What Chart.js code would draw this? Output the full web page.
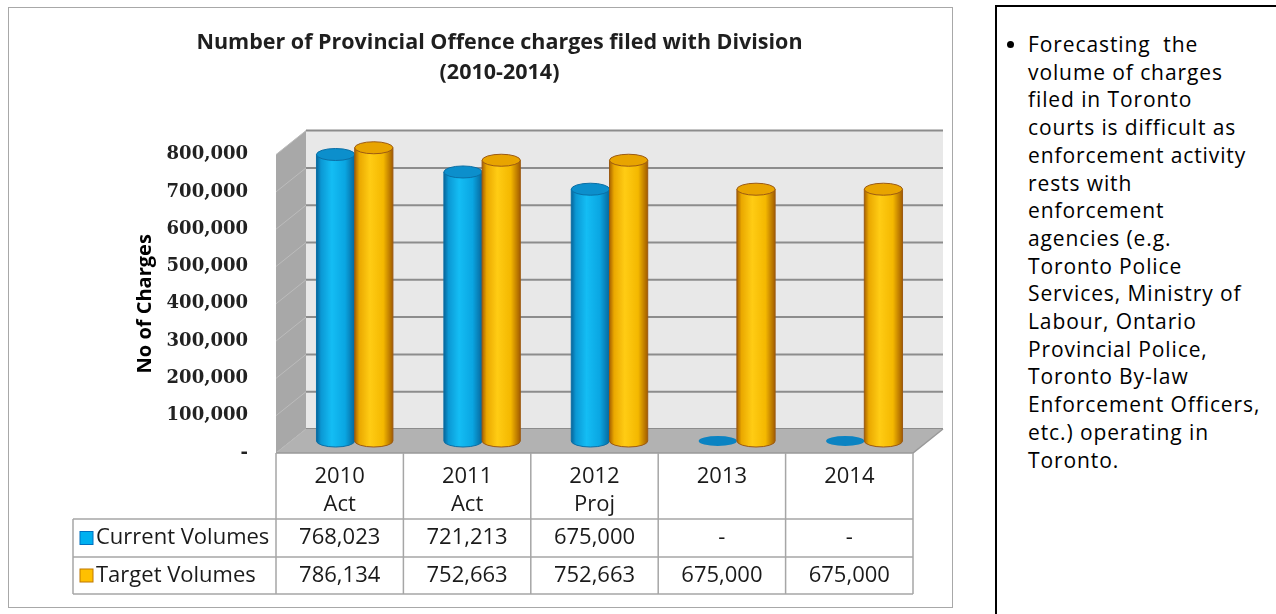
<!DOCTYPE html>
<html>
<head>
<meta charset="utf-8">
<script src="https://cdn.jsdelivr.net/npm/chart.js"></script>
<style>
  body { margin:0; background:#fff; width:1276px; height:614px; overflow:hidden; position:relative; font-family:'Open Sans', sans-serif; }
  #panel { position:absolute; left:8px; top:7px; width:945px; height:601px; border:1px solid #a8a8a8; box-sizing:border-box; }
  #chart { position:absolute; left:0; top:0; }
  #note { position:absolute; left:995px; top:5px; width:300px; height:640px; border:2px solid #000; box-sizing:border-box; }
  #note .dot { position:absolute; left:10px; top:34px; width:7px; height:7px; border-radius:50%; background:#000; }
  #note p { position:absolute; left:31px; top:24px; margin:0; font-size:21px; letter-spacing:0.9px; line-height:27.7px; white-space:pre; color:#000; }
</style>
</head>
<body>
<div id="panel"><canvas id="chart" width="943" height="599"></canvas></div>
<div id="note">
  <div class="dot"></div>
  <p>Forecasting  the
volume of charges
filed in Toronto
courts is difficult as
enforcement activity
rests with
enforcement
agencies (e.g.
Toronto Police
Services, Ministry of
Labour, Ontario
Provincial Police,
Toronto By-law
Enforcement Officers,
etc.) operating in
Toronto.</p>
</div>
<script>
// chart data
const years = ['2010', '2011', '2012', '2013', '2014'];
const yearNotes = ['Act', 'Act', 'Proj', '', ''];
const seriesNames = ['Current Volumes', 'Target Volumes'];
const currentVolumes = [768023, 721213, 675000, 0, 0];
const targetVolumes = [786134, 752663, 752663, 675000, 675000];
const yMax = 800000;
const yStep = 100000;

const DX = 30, DY = -24; // depth of the 3D box (front -> back)

const palette = [
  { body: [[0, '#08659a'], [0.12, '#0b98d4'], [0.4, '#14bdf4'], [0.75, '#0aa6e2'], [1, '#07679c']],
    cap: '#0c8fcc', edge: '#0a6fa6', flat: '#0b83c2', key: '#00b0f0', keyEdge: '#0070c0' },
  { body: [[0, '#a86200'], [0.12, '#eaa800'], [0.4, '#ffcc14'], [0.75, '#f4b800'], [1, '#a25c00']],
    cap: '#e8a400', edge: '#9c5a12', flat: '#e8a400', key: '#ffc000', keyEdge: '#c07800' }
];

function fmt(v) {
  return v === 0 ? '-' : v.toLocaleString('en-US');
}

function drawCylinder(ctx, cx, top, bottom, w, p) {
  const rx = w / 2, ry = 6, l = cx - rx;
  if (bottom - top < 1) {
    ctx.beginPath();
    ctx.ellipse(cx, bottom, rx, ry - 1, 0, 0, Math.PI * 2);
    ctx.fillStyle = p.flat;
    ctx.fill();
    return;
  }
  const g = ctx.createLinearGradient(l, 0, l + w, 0);
  p.body.forEach(([o, c]) => g.addColorStop(o, c));
  ctx.beginPath();
  ctx.moveTo(l, top);
  ctx.lineTo(l, bottom);
  ctx.ellipse(cx, bottom, rx, ry, 0, Math.PI, 0, true);
  ctx.lineTo(l + w, top);
  ctx.closePath();
  ctx.fillStyle = g;
  ctx.fill();
  ctx.strokeStyle = p.edge;
  ctx.lineWidth = 1;
  ctx.stroke();
  ctx.beginPath();
  ctx.ellipse(cx, top, rx, ry, 0, 0, Math.PI * 2);
  ctx.fillStyle = p.cap;
  ctx.fill();
  ctx.stroke();
}

// walls, floor and gridlines
const wallPlugin = {
  id: 'walls',
  beforeDatasetsDraw(chart) {
    const { ctx, chartArea: a, scales: { y } } = chart;
    ctx.save();
    ctx.fillStyle = '#a8a8a8';
    ctx.beginPath();
    ctx.moveTo(a.left, a.top);
    ctx.lineTo(a.left + DX, a.top + DY);
    ctx.lineTo(a.left + DX, a.bottom + DY);
    ctx.lineTo(a.left, a.bottom);
    ctx.closePath();
    ctx.fill();

    ctx.fillStyle = '#e8e8e8';
    ctx.fillRect(a.left + DX, a.top + DY, a.right - a.left, a.bottom - a.top);

    y.ticks.forEach(t => {
      const py = y.getPixelForValue(t.value);
      ctx.strokeStyle = '#bcbcbc';
      ctx.lineWidth = 1;
      ctx.beginPath();
      ctx.moveTo(a.left, py);
      ctx.lineTo(a.left + DX, py + DY);
      ctx.stroke();
      ctx.strokeStyle = '#8c8c8c';
      ctx.lineWidth = 2;
      ctx.beginPath();
      ctx.moveTo(a.left + DX, py + DY);
      ctx.lineTo(a.right + DX, py + DY);
      ctx.stroke();
    });

    ctx.fillStyle = '#b2b2b2';
    ctx.beginPath();
    ctx.moveTo(a.left, a.bottom);
    ctx.lineTo(a.right, a.bottom);
    ctx.lineTo(a.right + DX, a.bottom + DY);
    ctx.lineTo(a.left + DX, a.bottom + DY);
    ctx.closePath();
    ctx.fill();
    ctx.strokeStyle = '#999';
    ctx.lineWidth = 1.5;
    ctx.beginPath();
    ctx.moveTo(a.left, a.bottom);
    ctx.lineTo(a.right, a.bottom);
    ctx.lineTo(a.right + DX, a.bottom + DY);
    ctx.stroke();
    ctx.restore();
  },
  afterDatasetsDraw(chart) {
    const ctx = chart.ctx;
    ctx.save();
    chart.data.datasets.forEach((ds, di) => {
      chart.getDatasetMeta(di).data.forEach(bar => {
        const { x, y, base, width } = bar.getProps(['x', 'y', 'base', 'width'], true);
        drawCylinder(ctx, x + DX / 2, y + DY / 2, base + DY / 2, width, palette[di]);
      });
    });
    ctx.restore();
  }
};

// data table under the plot
const tablePlugin = {
  id: 'dataTable',
  afterDraw(chart) {
    const { ctx, chartArea: a, scales: { x } } = chart;
    const colW = (a.right - a.left) / years.length;
    const tableLeft = 64;
    const r1 = a.bottom + 66, r2 = a.bottom + 104, r3 = a.bottom + 141;
    ctx.save();
    ctx.strokeStyle = '#a6a6a6';
    ctx.lineWidth = 1.5;
    ctx.beginPath();
    for (let i = 0; i <= years.length; i++) {
      const px = a.left + i * colW;
      ctx.moveTo(px, a.bottom);
      ctx.lineTo(px, r3);
    }
    ctx.moveTo(tableLeft, r1); ctx.lineTo(tableLeft, r3);
    [r1, r2, r3].forEach(ry => { ctx.moveTo(tableLeft, ry); ctx.lineTo(a.right, ry); });
    ctx.stroke();

    ctx.font = "22px 'Open Sans', sans-serif";
    ctx.fillStyle = '#1a1a1a';
    ctx.textBaseline = 'middle';
    const rows = [currentVolumes, targetVolumes];
    rows.forEach((vals, ri) => {
      const cy = ri === 0 ? (r1 + r2) / 2 : (r2 + r3) / 2;
      const p = palette[ri];
      ctx.fillStyle = p.key;
      ctx.fillRect(71, cy - 6.5, 13, 13);
      ctx.strokeStyle = p.keyEdge;
      ctx.lineWidth = 1;
      ctx.strokeRect(71, cy - 6.5, 13, 13);
      ctx.fillStyle = '#1a1a1a';
      ctx.textAlign = 'left';
      ctx.fillText(seriesNames[ri], 87, cy);
      ctx.textAlign = 'center';
      vals.forEach((v, i) => ctx.fillText(fmt(v), x.getPixelForValue(i), cy));
    });
    ctx.restore();
  }
};

Chart.defaults.font.family = "'Open Sans', sans-serif";
Chart.defaults.color = '#1a1a1a';

new Chart(document.getElementById('chart'), {
  type: 'bar',
  data: {
    labels: years.map((y, i) => yearNotes[i] ? [y, yearNotes[i]] : y),
    datasets: [
      { label: seriesNames[0], data: currentVolumes, backgroundColor: 'rgba(0,0,0,0)', borderWidth: 0 },
      { label: seriesNames[1], data: targetVolumes, backgroundColor: 'rgba(0,0,0,0)', borderWidth: 0 }
    ]
  },
  options: {
    responsive: false,
    animation: false,
    categoryPercentage: 0.6,
    barPercentage: 1.0,
    layout: { padding: { left: 77, right: 39, top: 0, bottom: 0 } },
    plugins: {
      legend: { display: false },
      tooltip: { enabled: false },
      title: {
        display: true,
        text: ['Number of Provincial Offence charges filed with Division', '(2010-2014)'],
        font: { size: 21.5, weight: 'bold', lineHeight: 1.395 },
        color: '#1f1f1f',
        padding: { top: 20, bottom: 66.6 }
      }
    },
    scales: {
      x: {
        grid: { display: false, drawTicks: false },
        border: { display: false },
        ticks: { padding: 10, font: { size: 22, lineHeight: 1.27 }, maxRotation: 0 },
        afterFit(scale) { scale.height = 154; }
      },
      y: {
        min: 0,
        max: yMax,
        grid: { display: false, drawTicks: false },
        border: { display: false },
        ticks: {
          stepSize: yStep,
          padding: 28,
          font: { family: "'DejaVu Serif', serif", size: 18, weight: 'bold' },
          color: '#222',
          callback: v => fmt(v)
        },
        title: {
          display: true,
          text: 'No of Charges',
          font: { size: 20, weight: 'bold' },
          color: '#000',
          padding: { top: 47, bottom: 0 }
        },
        afterFit(scale) { scale.width = 190; }
      }
    }
  },
  plugins: [wallPlugin, tablePlugin]
});
</script>
</body>
</html>
